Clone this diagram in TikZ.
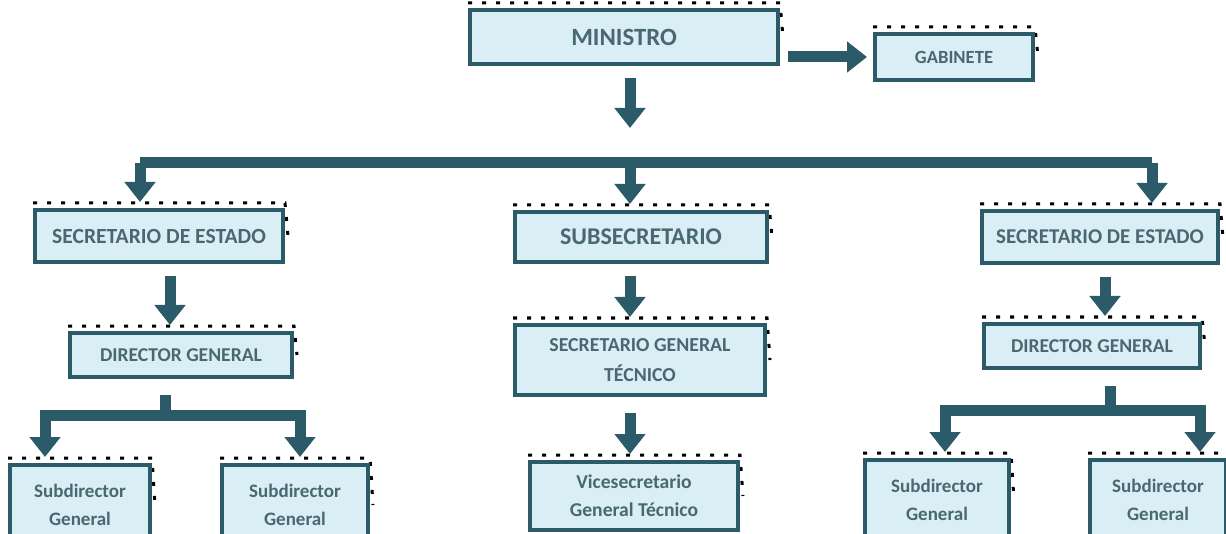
\documentclass[tikz,border=0pt]{standalone}
\usepackage{fontspec}
\setmainfont{Carlito}
\usetikzlibrary{arrows.meta,positioning}
\definecolor{boxfill}{HTML}{DAEEF5}
\definecolor{boxline}{HTML}{2B5A69}
\definecolor{boxtext}{HTML}{4A6872}

\begin{document}
\begin{tikzpicture}[x=0.5pt,y=-0.5pt,
    puesto/.style={draw=boxline,fill=boxfill,line width=2pt,text=boxtext,
      font=\bfseries\fontsize{9.5}{14}\selectfont,align=center,inner sep=0pt,
      append after command={
        \pgfextra{\draw[black,line width=1.5pt,dash pattern=on 2pt off 5pt]
          ([yshift=2.5pt]\tikzlastnode.north west) -- ([yshift=2.5pt]\tikzlastnode.north east)
          -- ([xshift=1.5pt]\tikzlastnode.east);}}},
    flow/.style={draw=boxline,line width=5.5pt,
      -{Triangle[length=10pt,width=15pt]},shorten >=3pt},
    bar/.style={draw=boxline,line width=5.5pt}]
  \clip (0,0) rectangle (1226,534);

  \node[puesto,minimum width=154pt,minimum height=27pt,font=\bfseries\fontsize{12.4}{14}\selectfont] (min) at (624,37) {MINISTRO};
  \node[puesto,minimum width=79pt,minimum height=23pt,font=\bfseries\fontsize{9.3}{11}\selectfont] (gab) at (954,57) {GABINETE};

  \node[puesto,minimum width=124pt,minimum height=26pt,font=\bfseries\fontsize{10.8}{13}\selectfont] (sec1) at (159,236) {SECRETARIO DE ESTADO};
  \node[puesto,minimum width=126pt,minimum height=25pt,font=\bfseries\fontsize{12}{14}\selectfont] (sub) at (641,237) {SUBSECRETARIO};
  \node[puesto,minimum width=118pt,minimum height=26pt,font=\bfseries\fontsize{10.5}{13}\selectfont] (sec3) at (1100,237) {SECRETARIO DE ESTADO};

  \node[puesto,minimum width=111pt,minimum height=22pt,font=\bfseries\fontsize{9.8}{11}\selectfont] (dir1) at (181,355) {DIRECTOR GENERAL};
  \node[puesto,minimum width=125pt,minimum height=35pt,font=\bfseries\fontsize{9.9}{15}\selectfont] (sgt) at (640,360) {SECRETARIO GENERAL\\T\'ECNICO};
  \node[puesto,minimum width=108pt,minimum height=22pt,font=\bfseries\fontsize{9.8}{11}\selectfont] (dir3) at (1092,346) {DIRECTOR GENERAL};

  \node[puesto,minimum width=70pt,minimum height=40pt] (sd1) at (80,505) {Subdirector\\General};
  \node[puesto,minimum width=73pt,minimum height=40pt] (sd2) at (295,505) {Subdirector\\General};
  \node[puesto,minimum width=104pt,minimum height=34pt,font=\bfseries\fontsize{9.8}{14}\selectfont] (vice) at (634,496) {Vicesecretario\\General T\'ecnico};
  \node[puesto,minimum width=72pt,minimum height=40pt] (sd3) at (937,500) {Subdirector\\General};
  \node[puesto,minimum width=68pt,minimum height=40pt] (sd4) at (1158,500) {Subdirector\\General};

  % ramas
  \coordinate (bus) at (630,163);
  \coordinate (busL) at (140,163);
  \coordinate (busR) at (1152,163);
  \coordinate (fork1) at (165,415);
  \coordinate (fork3) at (1110,410);

  \draw[flow,shorten <=4pt] (min.east |- gab) -- (gab.west);
  \draw[flow,shorten <=6pt] (min.south -| bus) -- ++(0,68);
  \draw[bar] (busL) -- (busR);
  \draw[flow] (busL) -- (busL |- sec1.north);
  \draw[flow] (bus) -- (bus |- sub.north);
  \draw[flow] (busR) -- (busR |- sec3.north);

  \draw[flow,shorten <=6pt] (sec1.south -| 170,0) -- (170,0 |- dir1.north);
  \draw[flow,shorten <=6pt] (sub.south -| bus) -- (bus |- sgt.north);
  \draw[flow,shorten <=6pt] (sec3.south -| 1105,0) -- (1105,0 |- dir3.north);

  \draw[bar,shorten <=8pt] (dir1.south -| fork1) -- (fork1);
  \draw[flow] (fork1) -| (45,0 |- sd1.north);
  \draw[flow] (fork1) -| (300,0 |- sd2.north);

  \draw[flow,shorten <=8pt] (sgt.south -| bus) -- (bus |- vice.north);

  \draw[bar,shorten <=8pt] (dir3.south -| fork3) -- (fork3);
  \draw[flow] (fork3) -| (945,0 |- sd3.north);
  \draw[flow] (fork3) -| (1200,0 |- sd4.north);
\end{tikzpicture}
\end{document}
